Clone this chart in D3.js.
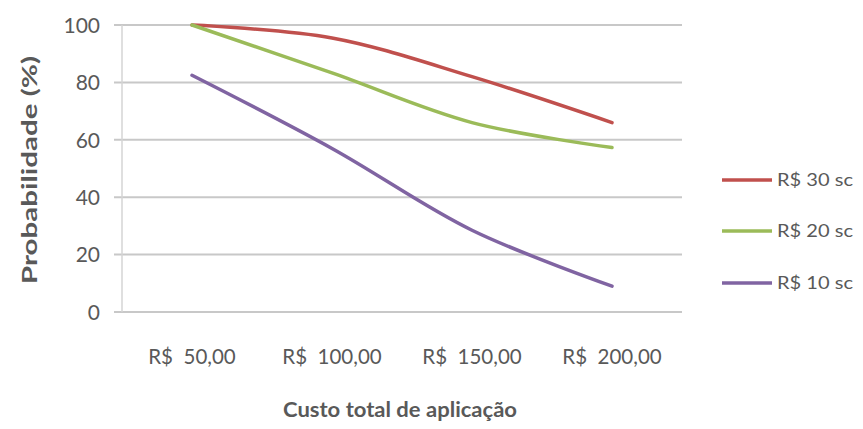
<!DOCTYPE html>
<html>
<head>
<meta charset="utf-8">
<script src="https://cdn.jsdelivr.net/npm/d3@7"></script>
<style>
  html, body { margin: 0; padding: 0; background: #fff; }
  svg text { font-family: Lato, "Open Sans", sans-serif; fill: #595959; }
</style>
</head>
<body>
<svg id="chart" width="863" height="429"></svg>
<script>
// Cost of application (categories)
const categories = ["R$  50,00", "R$  100,00", "R$  150,00", "R$  200,00"];
// Probability (%) per price of the sack
const series30 = [100, 95.5, 82, 66];
const series20 = [100, 83.3, 66, 57.3];
const series10 = [82.5, 57, 28.5, 9];
const seriesNames = ["R$ 30 sc", "R$ 20 sc", "R$ 10 sc"];
const seriesColors = ["#C0504D", "#9BBB59", "#8064A2"];
const yTicks = [0, 20, 40, 60, 80, 100];

const series = [series30, series20, series10];

const svg = d3.select("#chart");
const plot = { left: 122, right: 682, top: 25, bottom: 312 };

const x = d3.scaleBand().domain(categories).range([plot.left, plot.right]).paddingInner(0).paddingOuter(0);
const y = d3.scaleLinear().domain([0, 100]).range([plot.bottom, plot.top]);

// horizontal gridlines
svg.append("g")
  .selectAll("line")
  .data(yTicks)
  .join("line")
  .attr("x1", plot.left - 8)
  .attr("x2", plot.right)
  .attr("y1", d => y(d))
  .attr("y2", d => y(d))
  .attr("stroke", "#c8c8c8")
  .attr("stroke-width", 2);

// vertical axis line
svg.append("line")
  .attr("x1", plot.left).attr("x2", plot.left)
  .attr("y1", plot.top).attr("y2", plot.bottom)
  .attr("stroke", "#d4d4d4").attr("stroke-width", 1.5);

// y axis labels
const yAxis = d3.axisLeft(y).tickValues(yTicks).tickSize(0).tickPadding(0);
const gy = svg.append("g").attr("transform", `translate(${plot.left - 22},0)`).call(yAxis);
gy.select(".domain").remove();
gy.selectAll("text").style("font-size", "21px").attr("fill", "#595959").attr("dy", "0.35em")
  .style("font-family", "Lato, \"Open Sans\", sans-serif");

// x axis labels
const xAxis = d3.axisBottom(x).tickSize(0).tickPadding(0);
const gx = svg.append("g").attr("transform", `translate(0,${plot.bottom + 45})`).call(xAxis);
gx.select(".domain").remove();
gx.selectAll("text").style("font-size", "20.5px").attr("fill", "#595959").attr("dy", "0.35em")
  .style("font-family", "Lato, \"Open Sans\", sans-serif")
  .attr("xml:space", "preserve")
  .style("white-space", "pre");

// axis titles
svg.append("text")
  .attr("transform", `translate(37,170) rotate(-90)`)
  .attr("text-anchor", "middle")
  .attr("textLength", 228)
  .attr("lengthAdjust", "spacingAndGlyphs")
  .style("font-size", "20px").style("font-weight", "bold")
  .attr("fill", "#595959")
  .text("Probabilidade (%)");

svg.append("text")
  .attr("x", 400).attr("y", 417)
  .attr("text-anchor", "middle")
  .attr("textLength", 234)
  .attr("lengthAdjust", "spacingAndGlyphs")
  .style("font-size", "21px").style("font-weight", "bold")
  .attr("fill", "#404040")
  .text("Custo total de aplicação");

// smoothed series lines
const line = d3.line()
  .x((d, i) => x(categories[i]) + x.bandwidth() / 2)
  .y(d => y(d))
  .curve(d3.curveCatmullRom.alpha(0.5));

svg.append("g")
  .selectAll("path")
  .data(series)
  .join("path")
  .attr("d", d => line(d))
  .attr("fill", "none")
  .attr("stroke", (d, i) => seriesColors[i])
  .attr("stroke-width", 3.5)
  .attr("stroke-linecap", "round");

// legend
const legendY = [180, 231, 283];
const legend = svg.append("g")
  .selectAll("g")
  .data(seriesNames)
  .join("g")
  .attr("transform", (d, i) => `translate(722,${legendY[i]})`);
legend.append("line")
  .attr("x1", 0).attr("x2", 50)
  .attr("stroke", (d, i) => seriesColors[i])
  .attr("stroke-width", 3.5);
legend.append("text")
  .attr("x", 55).attr("dy", "0.35em")
  .attr("textLength", 76)
  .attr("lengthAdjust", "spacingAndGlyphs")
  .style("font-size", "18px")
  .attr("fill", "#595959")
  .text(d => d);
</script>
</body>
</html>
